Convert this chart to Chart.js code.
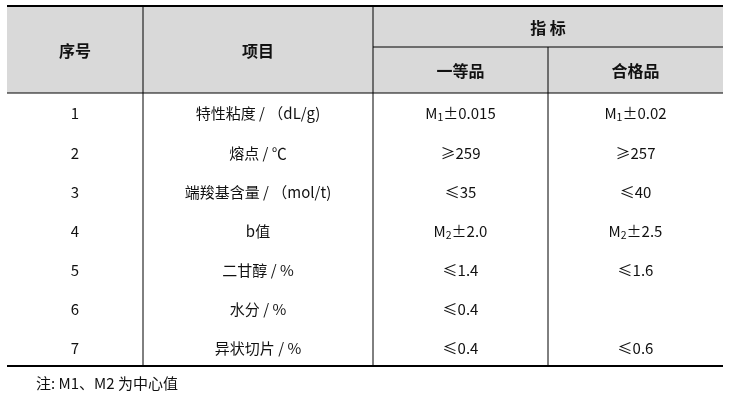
<!DOCTYPE html>
<html><head><meta charset="utf-8">
<script src="https://cdn.jsdelivr.net/npm/chart.js@4"></script>
<style>html,body{margin:0;padding:0;background:#fff}#w{width:730px;height:400px}</style>
</head><body><div id="w"><canvas id="c"></canvas></div>
<script>
const headers = ['序号', '项目', '指 标', '一等品', '合格品'];
const rowNumbers = ['1', '2', '3', '4', '5', '6', '7'];
const items = ['特性粘度 / （dL/g)', '熔点 / ℃', '端羧基含量 / （mol/t)', 'b值', '二甘醇 / %', '水分 / %', '异状切片 / %'];
const gradeFirst = ['M_1±0.015', '≥259', '≤35', 'M_2±2.0', '≤1.4', '≤0.4', '≤0.4'];
const gradeQualified = ['M_1±0.02', '≥257', '≤40', 'M_2±2.5', '≤1.6', '', '≤0.6'];
const footnote = '注: M1、M2 为中心值';

const F = '"Noto Sans CJK SC", "Noto Sans", sans-serif';
const colX = [7, 143, 373, 548, 723];
const rowY = [113, 153, 192, 231, 270, 309, 348];

function drawRich(ctx, s, cx, cy, size) {
  const parts = [];
  const m = s.indexOf('_');
  if (m < 0) { ctx.font = size + 'px ' + F; ctx.textAlign = 'center'; ctx.fillText(s, cx, cy); return; }
  const a = s.slice(0, m), sub = s[m + 1], b = s.slice(m + 2);
  ctx.font = size + 'px ' + F; const wa = ctx.measureText(a).width, wb = ctx.measureText(b).width;
  ctx.font = (size * 0.7) + 'px ' + F; const ws = ctx.measureText(sub).width;
  let x = cx - (wa + ws + wb) / 2;
  ctx.textAlign = 'left';
  ctx.font = size + 'px ' + F; ctx.fillText(a, x, cy); x += wa;
  ctx.font = (size * 0.7) + 'px ' + F; ctx.fillText(sub, x, cy + 4); x += ws;
  ctx.font = size + 'px ' + F; ctx.fillText(b, x, cy);
}

const tablePlugin = {
  id: 'table',
  afterDraw(chart) {
    const ctx = chart.ctx, X = v => chart.scales.x.getPixelForValue(v), Y = v => chart.scales.y.getPixelForValue(v);
    ctx.save();
    ctx.fillStyle = '#d9d9d9';
    ctx.fillRect(X(colX[0]), Y(7), X(colX[4]) - X(colX[0]), Y(93) - Y(7));
    ctx.strokeStyle = '#000';
    const line = (x1, y1, x2, y2, w) => { ctx.lineWidth = w; ctx.beginPath(); ctx.moveTo(X(x1), Y(y1)); ctx.lineTo(X(x2), Y(y2)); ctx.stroke(); };
    line(colX[0], 6, colX[4], 6, 2);
    line(colX[0], 366, colX[4], 366, 2);
    line(colX[0], 93, colX[4], 93, 1);
    line(colX[2], 47, colX[4], 47, 1);
    line(colX[1], 7, colX[1], 366, 1);
    line(colX[2], 7, colX[2], 366, 1);
    line(colX[3], 47, colX[3], 366, 1);
    ctx.fillStyle = '#111';
    ctx.textBaseline = 'middle'; ctx.textAlign = 'center';
    ctx.font = 'bold 16px ' + F;
    const mid = i => X((colX[i] + colX[i + 1]) / 2);
    ctx.fillText(headers[0], mid(0), Y(51));
    ctx.fillText(headers[1], mid(1), Y(51));
    ctx.fillText(headers[2], X((colX[2] + colX[4]) / 2), Y(28));
    ctx.fillText(headers[3], mid(2), Y(71));
    ctx.fillText(headers[4], mid(3), Y(71));
    for (let r = 0; r < rowNumbers.length; r++) {
      const y = Y(rowY[r]);
      ctx.font = '15px ' + F; ctx.textAlign = 'center';
      ctx.fillText(rowNumbers[r], mid(0), y);
      ctx.fillText(items[r], mid(1), y);
      drawRich(ctx, gradeFirst[r], mid(2), y, 15);
      drawRich(ctx, gradeQualified[r], mid(3), y, 15);
    }
    ctx.textAlign = 'left'; ctx.font = '15px ' + F;
    ctx.fillText(footnote, X(36), Y(383));
    ctx.restore();
  }
};

new Chart(document.getElementById('c'), {
  type: 'scatter',
  data: { datasets: [{ data: [], pointRadius: 0 }] },
  options: {
    responsive: true, maintainAspectRatio: false, animation: false,
    layout: { padding: 0 },
    plugins: { legend: { display: false }, tooltip: { enabled: false } },
    scales: {
      x: { type: 'linear', min: 0, max: 730, display: false },
      y: { type: 'linear', min: 0, max: 400, reverse: true, display: false }
    }
  },
  plugins: [tablePlugin]
});
</script></body></html>
